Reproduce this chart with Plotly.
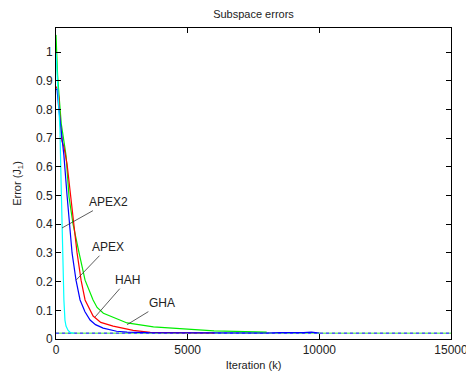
import plotly.graph_objects as go

# ---- data ----
apex2_x = [0, 40, 100, 150, 190, 230, 260, 300, 340, 380, 460, 550, 700]
apex2_y = [1.0, 0.93, 0.82, 0.73, 0.56, 0.40, 0.25, 0.136, 0.066, 0.045, 0.03, 0.022, 0.02]

apex_x = [0, 40, 110, 200, 300, 420, 495, 533, 610, 760, 914, 1100, 1294, 1500, 1790, 2300,
          2700, 3500, 5000, 8000, 8500, 9000, 9400, 9700, 9900, 10000]
apex_y = [0.87, 0.87, 0.80, 0.72, 0.64, 0.50, 0.415, 0.38, 0.30, 0.205, 0.136, 0.095, 0.066,
          0.05, 0.038, 0.027, 0.024, 0.022, 0.021, 0.021, 0.022, 0.021, 0.022, 0.024, 0.022, 0.021]

hah_x = [0, 60, 114, 150, 228, 300, 420, 570, 647, 720, 800, 952, 1104, 1410, 1700, 2170,
         2930, 3580, 5000, 6000]
hah_y = [0.88, 0.87, 0.84, 0.76, 0.69, 0.67, 0.61, 0.495, 0.415, 0.36, 0.30, 0.205, 0.136,
         0.08, 0.058, 0.045, 0.03, 0.023, 0.021, 0.021]

gha_x = [0, 20, 60, 114, 200, 300, 380, 495, 647, 876, 1104, 1408, 1560, 1800, 2170, 2700,
         3700, 4720, 6000, 8000]
gha_y = [1.06, 1.0, 0.92, 0.85, 0.75, 0.69, 0.64, 0.495, 0.40, 0.30, 0.205, 0.136, 0.11,
         0.09, 0.077, 0.056, 0.042, 0.035, 0.028, 0.024]

floor_x = [0, 15000]
floor_y = [0.02, 0.02]

labels = ["APEX2", "APEX", "HAH", "GHA"]
label_tip_x = [228, 760, 1485, 2700]
label_tip_y = [0.387, 0.205, 0.077, 0.05]
label_txt_x = [1980, 1960, 2703, 4035]
label_txt_y = [0.477, 0.32, 0.205, 0.125]

x_ticks = [0, 5000, 10000, 15000]
y_ticks = [0, 0.1, 0.2, 0.3, 0.4, 0.5, 0.6, 0.7, 0.8, 0.9, 1.0]
y_tick_text = ["0", "0.1", "0.2", "0.3", "0.4", "0.5", "0.6", "0.7", "0.8", "0.9", "1"]

fig = go.Figure()
fig.add_trace(go.Scatter(x=floor_x, y=floor_y, mode="lines",
                         line=dict(color="#77ee77", width=1.3)))
fig.add_trace(go.Scatter(x=floor_x, y=floor_y, mode="lines",
                         line=dict(color="#5555ff", width=1.3, dash="3px,3px")))
fig.add_trace(go.Scatter(x=gha_x, y=gha_y, mode="lines", line=dict(color="#00ee00", width=1.2)))
fig.add_trace(go.Scatter(x=hah_x, y=hah_y, mode="lines", line=dict(color="#ff0000", width=1.2)))
fig.add_trace(go.Scatter(x=apex_x, y=apex_y, mode="lines", line=dict(color="#0000ff", width=1.2)))
fig.add_trace(go.Scatter(x=apex2_x, y=apex2_y, mode="lines", line=dict(color="#00ffff", width=1.2)))

for t, tx, ty, ax, ay in zip(labels, label_tip_x, label_tip_y, label_txt_x, label_txt_y):
    fig.add_annotation(x=tx, y=ty, ax=ax, ay=ay, axref="x", ayref="y", text=t,
                       showarrow=True, arrowhead=0, arrowwidth=0.8, arrowcolor="#333333",
                       font=dict(size=12, color="#222222"), standoff=0, startstandoff=0)

axis_common = dict(showgrid=False, zeroline=False, showline=True, linecolor="black",
                   linewidth=1, mirror="ticks", ticks="inside", ticklen=5, tickcolor="black",
                   tickfont=dict(size=12, color="#222222"), ticklabeloverflow="allow",
                   automargin=False)
fig.update_xaxes(range=[0, 15000], tickvals=x_ticks, ticktext=[str(v) for v in x_ticks],
                 title=dict(text="Iteration (k)", font=dict(size=11, color="#222222"), standoff=4),
                 **axis_common)
fig.update_yaxes(range=[0, 1.084], tickvals=y_ticks, ticktext=y_tick_text,
                 title=dict(text="Error (J<sub>1</sub>)", font=dict(size=11, color="#222222"), standoff=12),
                 **axis_common)
fig.update_layout(
    width=466, height=371,
    margin=dict(l=56, r=15, t=28, b=32, autoexpand=False),
    paper_bgcolor="white", plot_bgcolor="white",
    showlegend=False,
    font=dict(family="Liberation Sans, Arial, sans-serif"),
    title=dict(text="Subspace errors", x=0.5, xanchor="center", xref="paper",
               y=1 - 14 / 371, yanchor="middle", font=dict(size=11, color="#222222")),
)
fig.write_html("out.html")
